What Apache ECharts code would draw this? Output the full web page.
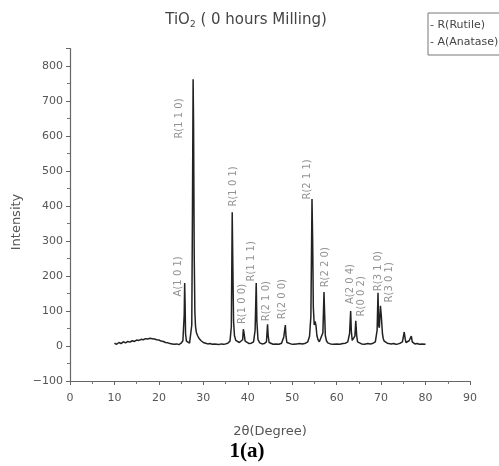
<!DOCTYPE html>
<html>
<head>
<meta charset="utf-8">
<script src="https://cdn.jsdelivr.net/npm/echarts@6/dist/echarts.min.js"></script>
<style>
html,body{margin:0;padding:0;background:#fff;}
#chart{width:499px;height:466px;}
</style>
</head>
<body>
<div id="chart"></div>
<script>
/*
* XRD pattern, TiO2 0 hours milling
*/
var twoTheta=[10.0,10.5,11.0,11.5,12.0,12.5,13.0,13.5,14.0,14.5,15.0,15.5,16.0,16.5,17.0,17.5,18.0,18.5,19.0,19.5,
	20.0,20.5,21.0,21.5,22.0,22.5,23.0,23.5,24.0,24.5,25.0,25.4,25.7,25.8,25.9,26.0,26.2,26.5,26.9,27.2,
	27.4,27.55,27.7,27.8,27.95,28.1,28.25,28.45,28.7,29.0,29.5,30.0,30.5,31.0,31.5,32.0,32.5,33.0,33.5,34.0,
	34.5,35.0,35.5,36.0,36.3,36.5,36.65,36.8,37.0,37.3,37.7,38.1,38.5,38.85,39.0,39.15,39.4,39.8,40.3,40.8,
	41.3,41.65,41.9,42.05,42.3,42.7,43.2,43.7,44.2,44.45,44.6,44.8,45.1,45.7,46.3,47.0,47.6,48.1,48.45,48.6,
	48.8,49.1,49.7,50.3,51.0,51.7,52.3,53.0,53.5,53.9,54.2,54.45,54.6,54.75,54.95,55.15,55.35,55.55,55.8,56.1,
	56.5,56.9,57.15,57.3,57.45,57.7,58.0,58.6,59.3,60.0,60.7,61.4,62.0,62.5,62.9,63.15,63.3,63.5,63.8,64.1,
	64.3,64.5,64.7,65.0,65.6,66.3,67.0,67.6,68.2,68.7,69.1,69.3,69.45,69.6,69.85,70.05,70.3,70.5,70.7,71.0,
	71.4,71.8,72.3,72.8,73.3,73.8,74.3,74.8,75.2,75.45,75.6,75.9,76.3,76.8,77.0,77.2,77.6,78.1,78.6,79.2,80.0];
var intensity=[8,5,10,7,12,9,13,11,15,13,17,16,19,18,21,20,22,21,20,18,
	17,14,13,10,9,7,6,5,6,4,8,15,90,180,120,35,14,9,8,12,
	60,380,762,640,260,95,55,38,30,22,15,10,8,6,7,5,6,5,4,6,
	5,6,8,14,55,382,220,70,30,16,11,10,12,18,48,38,14,9,7,8,
	12,45,180,70,18,9,6,7,12,62,28,10,6,5,6,5,8,26,60,28,
	10,7,6,5,6,7,6,8,12,28,85,420,300,110,60,70,58,30,18,12,
	14,38,154,90,30,15,9,6,5,6,5,7,8,12,35,100,42,16,12,28,
	72,30,12,8,6,5,7,6,8,12,45,152,60,52,115,85,35,20,14,10,
	8,9,6,7,5,6,8,12,40,18,10,12,15,28,12,8,6,7,5,6,5];

var peakNames=['A(1 0 1)','R(1 1 0)','R(1 0 1)','R(1 0 0)','R(1 1 1)','R(2 1 0)','R(2 0 0)',
	'R(2 1 1)','R(2 2 0)','A(2 0 4)','R(0 0 2)','R(3 1 0)','R(3 0 1)'];
var peakLabelX=[24.3,24.6,36.7,38.7,40.8,44.1,47.7,53.4,57.4,63.1,65.5,69.4,71.8];
var peakLabelY=[199,650,456,120,242,128,134,476,225,177,142,214,182];

var xTicks=[0,90,10];
var yTicks=[-100,850,100];

var chartFont='"DejaVu Sans", Arial, sans-serif';

function buildLine(){
	var pts=[];
	for(var i=0;i<twoTheta.length;i++){
		pts.push([twoTheta[i],intensity[i]]);
	}
	return pts;
}
function buildLabels(){
	var pts=[];
	for(var i=0;i<peakNames.length;i++){
		pts.push({name:peakNames[i],value:[peakLabelX[i],peakLabelY[i]]});
	}
	return pts;
}

var axisStyle={
	axisLine:{show:true,onZero:false,lineStyle:{color:'#666',width:1.2}},
	axisTick:{show:true,inside:false,length:4,lineStyle:{color:'#666'}},
	minorTick:{show:true,splitNumber:2,length:3,lineStyle:{color:'#777'}},
	splitLine:{show:false},
	axisLabel:{color:'#555',fontSize:11,fontFamily:chartFont,
		formatter:function(v){return String(v).replace('-','\u2212');}}
};

var option={
	backgroundColor:'#fff',
	animation:false,
	title:{
		text:'TiO{sub|2} ( 0 hours Milling)',
		left:241,
		top:7,
		textAlign:'center',
		textStyle:{
			color:'#444',fontSize:15,fontWeight:'normal',fontFamily:chartFont,
			rich:{sub:{fontSize:9,color:'#444',verticalAlign:'bottom',padding:[8,0,0,0]}}
		}
	},
	grid:{left:70,right:29,top:48.5,bottom:85},
	xAxis:echarts.util.merge({
		type:'value',
		min:xTicks[0],max:xTicks[1],interval:xTicks[2],
		name:'2θ(Degree)',
		nameLocation:'middle',
		nameGap:44,
		nameTextStyle:{color:'#555',fontSize:13,fontFamily:chartFont}
	},axisStyle,true),
	yAxis:echarts.util.merge({
		type:'value',
		min:yTicks[0],max:yTicks[1],interval:yTicks[2],
		name:''
	},axisStyle,true),
	series:[{
		name:'XRD',
		type:'line',
		data:buildLine(),
		showSymbol:false,
		symbol:'none',
		lineStyle:{color:'#222',width:1.5}
	},{
		name:'peaks',
		type:'scatter',
		data:buildLabels(),
		symbolSize:0,
		silent:true,
		label:{
			show:true,
			position:'inside',
			rotate:90,
			formatter:'{b}',
			color:'#777',
			fontSize:10,
			fontFamily:chartFont
		}
	}],
	graphic:[{
		type:'rect',
		shape:{x:428,y:13,width:80,height:42},
		style:{fill:'#fff',stroke:'#777',lineWidth:1}
	},{
		type:'text',
		left:430,top:20,
		style:{text:'- R(Rutile)',fill:'#444',font:'11px '+chartFont}
	},{
		type:'text',
		left:430,top:37,
		style:{text:'- A(Anatase)',fill:'#444',font:'11px '+chartFont}
	},{
		type:'text',
		x:17,y:222,rotation:Math.PI/2,
		style:{text:'Intensity',fill:'#555',align:'center',verticalAlign:'middle',font:'13px '+chartFont}
	},{
		type:'text',
		x:247,y:452,
		style:{text:'1(a)',fill:'#000',align:'center',verticalAlign:'middle',font:'bold 21px "Liberation Serif", "Times New Roman", serif'}
	}]
};
option.yAxis.axisLabel.showMaxLabel=false;
option.xAxis.axisLabel.margin=12;
option.yAxis.axisLabel.margin=7;

var myChart=echarts.init(document.getElementById('chart'));
myChart.setOption(option);
</script>
</body>
</html>
